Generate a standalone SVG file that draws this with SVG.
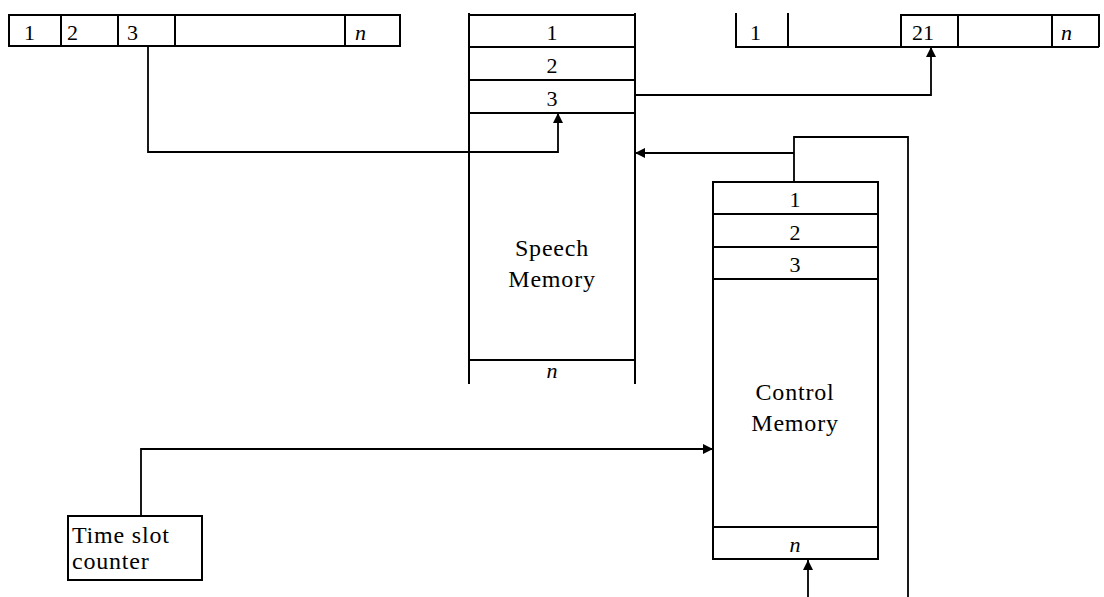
<svg xmlns="http://www.w3.org/2000/svg" width="1104" height="597" viewBox="0 0 1104 597">
<style>
.b{fill:none;stroke:#000;stroke-width:2}
.c{fill:none;stroke:#000;stroke-width:1.8}
.m{text-anchor:middle}
.i{font-style:italic}
.w{font-size:24px;letter-spacing:0.8px}
</style>
<defs>
<marker id="ah" viewBox="0 0 10 10" refX="10" refY="5" markerWidth="11" markerHeight="10" markerUnits="userSpaceOnUse" orient="auto"><path d="M0,0 L10,5 L0,10 z" fill="#000"/></marker>
</defs>
<rect width="1104" height="597" fill="#fff"/>
<g font-family="Liberation Serif, Times New Roman, serif" font-size="22" fill="#000">
<g id="input-frame">
<rect class="b" x="9" y="15" width="391" height="31"/>
<path class="b" d="M61,15V46M118,15V46M175,15V46M345,15V46"/>
<text x="24" y="40">1</text>
<text x="67" y="40">2</text>
<text x="127" y="40">3</text>
<text class="i" x="355" y="40">n</text>
</g>
<g id="output-frame">
<path class="b" d="M736,13V47H1099M788,13V47M901,47V15H1099V47M958,15V47M1052,15V47"/>
<text x="750" y="40">1</text>
<text x="912" y="40">21</text>
<text class="i" x="1061" y="40">n</text>
</g>
<g id="speech-memory">
<path class="b" d="M469,13V384M635,13V384M469,15H635M469,47H635M469,80H635M469,113H635M469,360H635"/>
<text class="m" x="552" y="40">1</text>
<text class="m" x="552" y="73">2</text>
<text class="m" x="552" y="106">3</text>
<text class="m w" x="552" y="256">Speech</text>
<text class="m w" x="552" y="287">Memory</text>
<text class="m i" x="552" y="378">n</text>
</g>
<g id="control-memory">
<rect class="b" x="713" y="182" width="165" height="377"/>
<path class="b" d="M713,214H878M713,247H878M713,279H878M713,527H878"/>
<text class="m" x="795" y="207">1</text>
<text class="m" x="795" y="240">2</text>
<text class="m" x="795" y="272">3</text>
<text class="m w" x="795" y="400">Control</text>
<text class="m w" x="795" y="431">Memory</text>
<text class="m i" x="795" y="552">n</text>
</g>
<g id="time-slot-counter">
<rect class="b" x="68" y="516" width="134" height="64"/>
<text class="w" x="72" y="543">Time slot</text>
<text class="w" x="72" y="569">counter</text>
</g>
</g>
<g id="connectors">
<path class="c" d="M148,47V152H558V113" marker-end="url(#ah)"/>
<path class="c" d="M635,95H931V47" marker-end="url(#ah)"/>
<path class="c" d="M908,597V137H794V182"/>
<path class="c" d="M794,153H635" marker-end="url(#ah)"/>
<path class="c" d="M808,597V560" marker-end="url(#ah)"/>
<path class="c" d="M141,516V449H713" marker-end="url(#ah)"/>
</g>
</svg>
